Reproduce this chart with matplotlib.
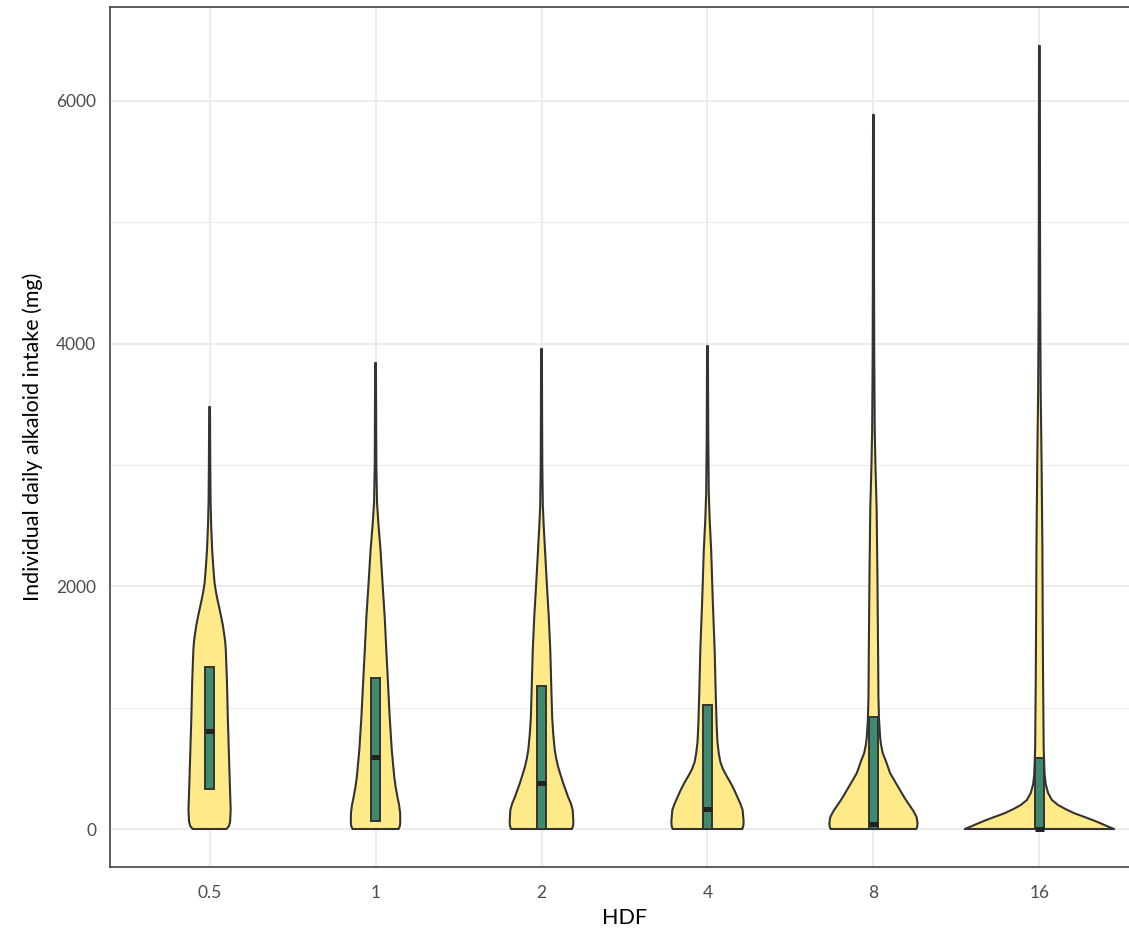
import numpy as np
import matplotlib.pyplot as plt

plt.rcParams['font.family'] = ['Lato', 'DejaVu Sans']

hdf_labels = ['0.5', '1', '2', '4', '8', '16']

# violin outlines: intake (mg) and relative half width
v05_val = [0, 25, 60, 157, 379, 651, 923, 1203, 1475, 1550, 1615, 1680, 1747, 1820, 1887, 1950,
           2027, 2150, 2299, 2500, 2700, 3000, 3478]
v05_w = [17.0, 19.5, 20.6, 21.2, 20.3, 19.3, 18.3, 17.5, 16.3, 15.6, 14.5, 13.3, 11.7, 9.8, 8.0, 6.5,
         5.0, 3.8, 2.6, 1.6, 1.0, 0.7, 0.4]

v1_val = [0, 20, 50, 132, 200, 264, 340, 429, 651, 923, 1203, 1475, 1747, 2027, 2299, 2500, 2687,
          3000, 3400, 3840]
v1_w = [23.0, 24.3, 24.8, 24.7, 23.6, 22.0, 20.3, 18.8, 16.3, 14.2, 12.5, 10.8, 9.2, 7.0, 5.0, 3.0, 1.5,
        0.8, 0.6, 0.4]

v2_val = [0, 25, 60, 157, 210, 264, 320, 379, 450, 511, 580, 651, 780, 923, 1203, 1475, 1747, 2027,
          2299, 2500, 2670, 3000, 3400, 3956]
v2_w = [30.5, 31.7, 32.0, 31.3, 29.5, 26.7, 24.3, 21.7, 19.0, 16.7, 14.8, 13.3, 11.8, 10.7, 9.7, 8.8,
        7.3, 5.3, 3.5, 2.2, 1.3, 0.8, 0.6, 0.4]

v4_val = [0, 25, 60, 157, 210, 264, 320, 379, 440, 494, 550, 626, 720, 857, 1137, 1475, 1887, 2299,
          2550, 2770, 3200, 3600, 3980]
v4_w = [35.0, 36.0, 36.3, 35.3, 33.0, 30.0, 27.0, 23.3, 19.0, 15.5, 13.0, 11.3, 10.0, 9.2, 8.2, 7.2,
        5.3, 3.7, 2.2, 1.3, 0.8, 0.6, 0.4]

v8_val = [0, 20, 50, 99, 150, 198, 260, 330, 400, 461, 560, 626, 700, 758, 900, 1088, 1418, 2077,
          2637, 3000, 3288, 3900, 4500, 5200, 5885]
v8_w = [43.0, 44.0, 44.3, 43.3, 40.0, 36.0, 31.0, 26.0, 21.0, 16.7, 12.5, 9.3, 7.5, 6.7, 5.6, 5.0, 4.7,
        4.0, 3.2, 2.0, 1.3, 0.8, 0.6, 0.5, 0.4]

v16_val = [0, 20, 45, 69, 100, 130, 165, 198, 240, 297, 370, 450, 659, 1206, 1756, 2307,
           3000, 3593, 4300, 5000, 5800, 6453]
v16_w = [75.0, 69.0, 62.0, 55.0, 45.0, 35.0, 26.0, 18.7, 12.5, 8.7, 6.3, 5.2, 4.3, 3.7, 3.3,
         3.0, 2.2, 1.3, 0.8, 0.6, 0.5, 0.4]

violin_vals = [v05_val, v1_val, v2_val, v4_val, v8_val, v16_val]
violin_ws = [v05_w, v1_w, v2_w, v4_w, v8_w, v16_w]

# box plot quartiles (mg)
q1 = [330, 69, 0, 0, 0, 0]
med = [810, 596, 376, 165, 41, 0]
q3 = [1332, 1247, 1181, 1022, 920, 588]

fig = plt.figure(figsize=(11.29, 9.43), dpi=100)
ax = fig.add_axes([110 / 1129, 76 / 943, 1029 / 1129, 860 / 943])

xs = np.arange(len(hdf_labels))
wmax = max(max(w) for w in violin_ws)
for i in xs:
    v = np.array(violin_vals[i], dtype=float)
    w = np.array(violin_ws[i]) / wmax * 0.45
    px = np.concatenate([i + w, (i - w)[::-1]])
    py = np.concatenate([v, v[::-1]])
    ax.fill(px, py, facecolor='#FFEA8A', edgecolor='#333333', linewidth=1.5,
            joinstyle='round', zorder=2)

bw = 0.058
ax.bar(xs, np.array(q3) - np.array(q1), bottom=q1, width=bw, color='#3F8A6E',
       edgecolor='#333333', linewidth=1.4, zorder=3)
for i in xs:
    ax.plot([i - bw / 2, i + bw / 2], [med[i], med[i]], color='#222222', lw=3.6,
            solid_capstyle='butt', zorder=4)

ax.set_xlim(-0.6, 5.6)
ax.set_ylim(-313, 6773)
ax.set_xticks(xs)
ax.set_xticklabels(hdf_labels)
ax.set_yticks([0, 2000, 4000, 6000])
ax.set_yticks([1000, 3000, 5000], minor=True)
ax.tick_params(axis='both', which='both', length=0, labelsize=12.5, labelcolor='#4D4D4D')
ax.tick_params(axis='x', pad=13)
ax.tick_params(axis='y', pad=10)

ax.grid(True, which='major', color='#EBEBEB', linewidth=1.3, zorder=0)
ax.grid(True, which='minor', axis='y', color='#EBEBEB', linewidth=0.7, zorder=0)
ax.set_axisbelow(True)

for s in ax.spines.values():
    s.set_color('#333333')
    s.set_linewidth(1.1)

ax.set_xlabel('HDF', fontsize=15.5, labelpad=5)
ax.set_ylabel('Individual daily alkaloid intake (mg)', fontsize=15.5, labelpad=9)

fig.savefig('out.png', dpi=100)
